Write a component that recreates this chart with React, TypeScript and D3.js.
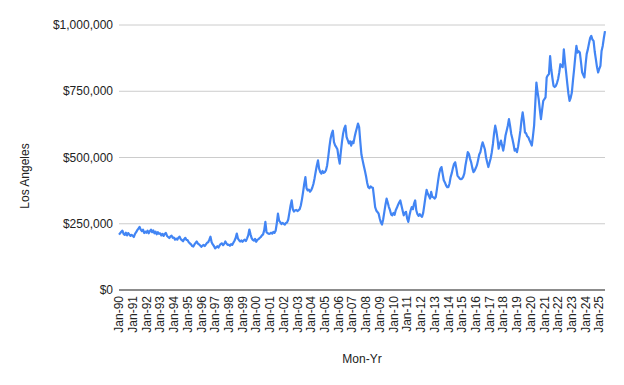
import React from "react";
import * as d3 from "d3";

// Median price (thousands of $), monthly Jan-1990 .. Jun-2025
const y1990 = [209, 214, 220, 224, 212, 208, 216, 206, 215, 210, 204, 208];
const y1991 = [205, 200, 212, 218, 226, 232, 238, 228, 222, 228, 215, 220];
const y1992 = [216, 224, 214, 222, 228, 218, 225, 214, 220, 210, 218, 212];
const y1993 = [214, 206, 212, 204, 212, 215, 204, 200, 196, 202, 205, 197];
const y1994 = [198, 190, 194, 190, 198, 201, 192, 188, 184, 192, 197, 189];
const y1995 = [188, 180, 176, 172, 166, 164, 172, 178, 183, 175, 172, 168];
const y1996 = [163, 167, 170, 166, 172, 178, 180, 190, 201, 180, 172, 166];
const y1997 = [157, 161, 165, 160, 168, 174, 176, 169, 174, 183, 176, 170];
const y1998 = [171, 167, 173, 170, 178, 186, 196, 213, 194, 188, 183, 187];
const y1999 = [182, 187, 190, 185, 195, 206, 228, 210, 196, 189, 186, 193];
const y2000 = [182, 189, 192, 196, 200, 206, 210, 226, 257, 218, 214, 212];
const y2001 = [213, 216, 213, 219, 216, 224, 252, 288, 262, 256, 249, 253];
const y2002 = [250, 247, 253, 255, 266, 292, 318, 338, 305, 296, 301, 302];
const y2003 = [298, 301, 305, 319, 342, 370, 401, 426, 384, 376, 379, 371];
const y2004 = [376, 386, 400, 421, 446, 470, 489, 458, 445, 439, 449, 442];
const y2005 = [445, 452, 470, 502, 540, 571, 590, 601, 558, 546, 539, 531];
const y2006 = [500, 477, 521, 560, 591, 610, 620, 578, 566, 553, 561, 545];
const y2007 = [560, 554, 576, 595, 611, 628, 615, 560, 511, 490, 470, 451];
const y2008 = [430, 405, 388, 384, 391, 387, 386, 350, 313, 300, 294, 289];
const y2009 = [270, 255, 247, 266, 294, 321, 345, 330, 313, 301, 285, 282];
const y2010 = [291, 284, 301, 310, 321, 330, 338, 319, 300, 282, 291, 295];
const y2011 = [270, 257, 281, 300, 313, 305, 326, 338, 300, 286, 280, 286];
const y2012 = [280, 276, 291, 320, 351, 378, 364, 355, 345, 370, 351, 350];
const y2013 = [345, 351, 380, 411, 440, 457, 464, 439, 414, 406, 395, 388];
const y2014 = [388, 401, 426, 441, 460, 476, 482, 459, 432, 426, 420, 418];
const y2015 = [420, 427, 440, 471, 495, 520, 514, 495, 481, 460, 445, 451];
const y2016 = [460, 471, 490, 511, 520, 541, 557, 544, 530, 500, 481, 464];
const y2017 = [480, 496, 520, 551, 591, 620, 599, 570, 533, 551, 564, 545];
const y2018 = [526, 551, 583, 601, 620, 645, 619, 589, 571, 550, 526, 531];
const y2019 = [520, 541, 570, 601, 641, 670, 639, 595, 591, 580, 576, 565];
const y2020 = [555, 545, 581, 620, 701, 783, 749, 720, 681, 645, 681, 714];
const y2021 = [720, 727, 802, 810, 815, 883, 833, 800, 770, 766, 770, 781];
const y2022 = [796, 821, 852, 845, 841, 908, 860, 821, 780, 741, 714, 725];
const y2023 = [745, 791, 833, 880, 921, 896, 901, 896, 860, 821, 811, 802];
const y2024 = [850, 891, 908, 930, 951, 959, 945, 940, 900, 871, 841, 821];
const y2025 = [835, 846, 902, 921, 951, 977];

const yearlyValues = [
  y1990, y1991, y1992, y1993, y1994, y1995, y1996, y1997, y1998, y1999,
  y2000, y2001, y2002, y2003, y2004, y2005, y2006, y2007, y2008, y2009,
  y2010, y2011, y2012, y2013, y2014, y2015, y2016, y2017, y2018, y2019,
  y2020, y2021, y2022, y2023, y2024, y2025,
];
const startYear = 1990;
const monthNames = ["Jan", "Feb", "Mar", "Apr", "May", "Jun", "Jul", "Aug", "Sep", "Oct", "Nov", "Dec"];
const yTicks = [0, 250000, 500000, 750000, 1000000];
const yTitle = "Los Angeles";
const xTitle = "Mon-Yr";

type Pt = { label: string; value: number };
const data: Pt[] = [];
yearlyValues.forEach((arr, yi) => {
  arr.forEach((v, mi) => {
    const yy = String((startYear + yi) % 100).padStart(2, "0");
    data.push({ label: `${monthNames[mi]}-${yy}`, value: v * 1000 });
  });
});

export default function App() {
  const W = 624, H = 385;
  const left = 119, right = 605, top = 25, bottom = 290;
  const x = d3.scalePoint<string>().domain(data.map((d) => d.label)).range([left, right]);
  const y = d3.scaleLinear().domain([0, 1000000]).range([bottom, top]);
  const line = d3.line<Pt>().x((d) => x(d.label)!).y((d) => y(d.value));
  const fmt = (v: number) => "$" + d3.format(",")(v);
  const font = "Arial, 'Liberation Sans', sans-serif";
  const janLabels = data.filter((d) => d.label.startsWith("Jan"));

  return (
    <svg width={W} height={H} style={{ position: "absolute", left: 0, top: 0, background: "#fff" }} fontFamily={font}>
      {yTicks.filter((t) => t > 0).map((t) => (
        <line key={t} x1={left} x2={right} y1={y(t)} y2={y(t)} stroke="#cccccc" strokeWidth={1} />
      ))}
      {yTicks.map((t) => (
        <text key={"l" + t} x={113} y={y(t)} dy="0.35em" textAnchor="end" fontSize={12} fill="#222">
          {fmt(t)}
        </text>
      ))}
      <path d={line(data) || ""} fill="none" stroke="#4285F4" strokeWidth={2.2} strokeLinejoin="round" />
      <line x1={left} x2={right} y1={y(0)} y2={y(0)} stroke="#666" strokeWidth={1.5} />
      {janLabels.map((d) => (
        <text
          key={d.label}
          transform={`translate(${x(d.label)},296) rotate(-90)`}
          dy="0.35em"
          textAnchor="end"
          fontSize={12}
          fill="#222"
        >
          {d.label}
        </text>
      ))}
      <text x={(left + right) / 2} y={363} textAnchor="middle" fontSize={12} fill="#222">
        {xTitle}
      </text>
      <text transform={`translate(25,176) rotate(-90)`} dy="0.35em" textAnchor="middle" fontSize={12} fill="#222">
        {yTitle}
      </text>
    </svg>
  );
}
